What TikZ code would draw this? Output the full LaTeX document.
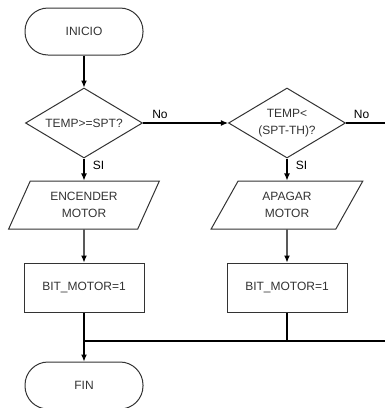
\documentclass[tikz,border=0pt]{standalone}
\usepackage{fontspec}
\setmainfont{Liberation Sans}
\usetikzlibrary{shapes.geometric}
\usetikzlibrary{arrows.meta}
\definecolor{ink}{HTML}{333333}
\tikzstyle{terminal}=[draw=ink,line width=1pt,rectangle,rounded corners=23pt,minimum width=118pt,minimum height=47pt,inner sep=0pt]
\tikzstyle{decision}=[draw=ink,line width=1pt,diamond,aspect=1.67,minimum width=117pt,minimum height=70pt,inner sep=0pt,align=center]
\tikzstyle{inout}=[draw=ink,line width=1pt,trapezium,trapezium left angle=62,trapezium right angle=118,trapezium stretches=true,minimum width=152pt,minimum height=48pt,inner sep=0pt,align=center]
\tikzstyle{process}=[draw=ink,line width=1pt,rectangle,minimum width=120pt,minimum height=49pt,inner sep=0pt]
\tikzstyle{flow}=[-{Latex[length=7pt,width=6pt]},line width=1.1pt,black]
\tikzstyle{plainflow}=[-,line width=1.1pt,black]
\newcommand{\flowtext}{\fontsize{12}{17}\selectfont\color{ink}}

\begin{document}
\begin{tikzpicture}[x=1pt,y=-1pt,font=\flowtext]
  \useasboundingbox (0,0) rectangle (385,408);
  % left column
  \node[terminal] (ini) at (84,31.5) {INICIO};
  \node[decision] (d1) at (84,123) {TEMP>=SPT?};
  \node[inout] (p1) at (84,205) {ENCENDER\\MOTOR};
  \node[process] (r1) at (84,287.5) {BIT\_MOTOR=1};
  \node[terminal] (fin) at (84,385.5) {FIN};
  % right column
  \node[decision] (d2) at (287,123) {TEMP<\\(SPT-TH)?};
  \node[inout] (p2) at (287,205) {APAGAR\\MOTOR};
  \node[process] (r2) at (287,287.5) {BIT\_MOTOR=1};
  % join points
  \coordinate (join) at (84,341);
  \coordinate (edgeNo) at (385,123);
  \coordinate (edgeJoin) at (385,341);

  \draw[flow] (ini) -- (d1);
  \draw[flow] (d1) -- (p1) node[pos=0.3,right=5pt] {SI};
  \draw[flow] (p1) -- (r1);
  \draw[flow] (r1) -- (fin);
  \draw[flow] (d1) -- (d2) node[pos=0.2,above=1pt] {No};
  \draw[flow] (d2) -- (p2) node[pos=0.3,right=5pt] {SI};
  \draw[flow] (p2) -- (r2);
  \draw[plainflow] (d2) -- (edgeNo) node[pos=0.4,above=1pt] {No};
  \draw[plainflow] (r2) -- (r2.south |- join);
  \draw[plainflow] (edgeJoin) -- (join);
\end{tikzpicture}
\end{document}
